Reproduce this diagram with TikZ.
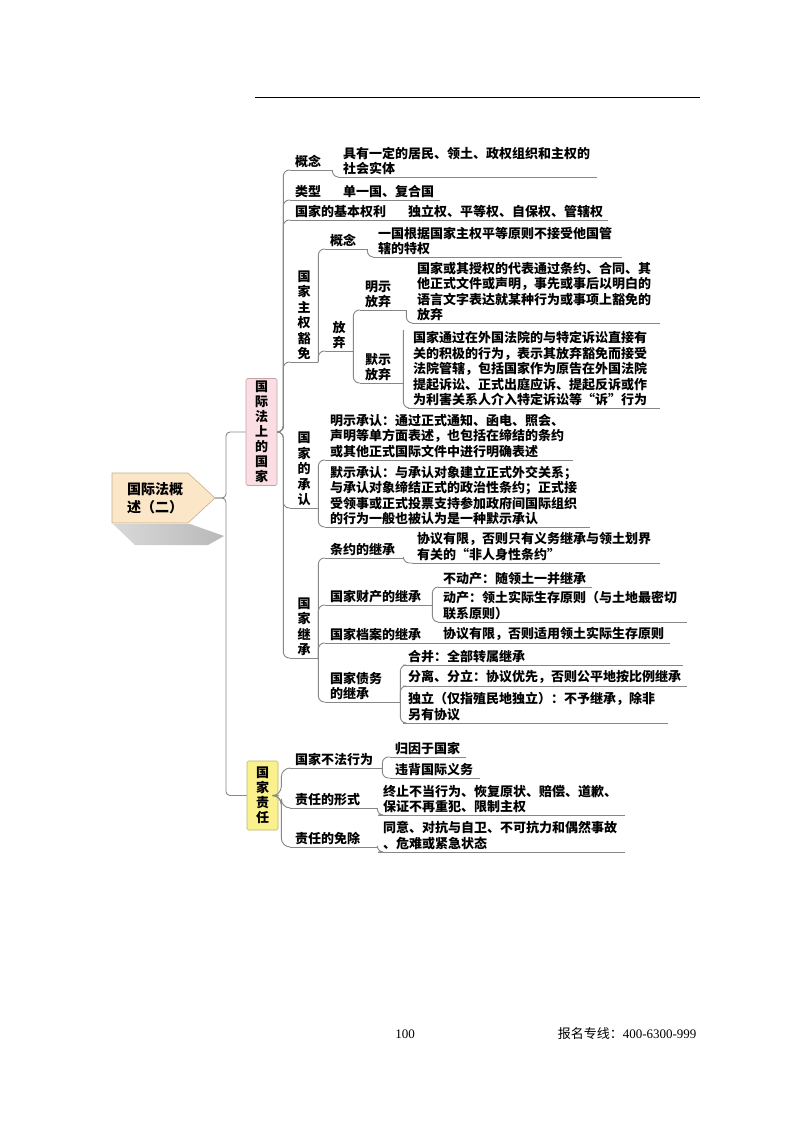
\documentclass[tikz,border=0pt]{standalone}
\usepackage{fontspec}
\setmainfont{Liberation Serif}
\newfontfamily\cjk{Noto Sans CJK SC}
\usetikzlibrary{positioning}
\begin{document}
\begin{tikzpicture}[x=1pt,y=-1pt,
  topic/.style={anchor=south west,inner xsep=5pt,inner ysep=2pt,align=left,font=\cjk\bfseries\fontsize{13}{15.5}\selectfont},
  vtopic/.style={topic,align=center,text width=18pt},
  uline/.style={draw=linec,line width=0.9pt},
  branch/.style={draw=linec,line width=0.9pt,rounded corners=6pt},
  trunk/.style={draw=linec,line width=0.9pt,rounded corners=4pt},
  hbox/.style={minimum width=31pt,inner sep=0pt,align=center,rounded corners=1.5pt,line width=0.6pt,font=\cjk\bfseries\fontsize{13}{15}\selectfont}]
\definecolor{linec}{RGB}{135,135,135}
\definecolor{pinkc}{RGB}{250,222,228}
\definecolor{pinkd}{RGB}{200,160,170}
\definecolor{yelc}{RGB}{250,240,140}
\definecolor{yeld}{RGB}{190,180,110}
\definecolor{rootc}{RGB}{252,230,200}
\definecolor{rootd}{RGB}{200,175,140}
\fill[white] (0,0) rectangle (800,1124);
\useasboundingbox (0,0) rectangle (800,1124);
\draw[line width=0.8pt] (255,97) -- (700,97);
\shade[left color=gray!30,right color=gray!55] (113,524) -- (190,524) -- (224,536) -- (208,545) -- (135,545) -- cycle;
\draw[fill=rootc,draw=rootd,line width=0.6pt] (112,473) -- (188,473) -- (215,498) -- (188,523) -- (112,523) -- cycle;
\coordinate (roottip) at (215,498);
\node[anchor=west,align=left,inner sep=0pt,font=\cjk\bfseries\fontsize{14}{17.5}\selectfont] (root) at (127,498) {国际法概\\述（二）};
\node[hbox,fill=pinkc,draw=pinkd,minimum height=107pt] (gj) at (261.5,432) {国\\际\\法\\上\\的\\国\\家};
\node[hbox,fill=yelc,draw=yeld,minimum height=69pt] (zr) at (262.5,795.5) {国\\家\\责\\任};
\draw[trunk] (roottip) -- ++(11,0) |- (gj.west);
\draw[trunk] (roottip) -- ++(11,0) |- (zr.west);
\node[topic,text width=32pt] (gn) at (290,170) {概念};
\node[topic,text width=249pt] (gnT) at (338,177) {具有一定的居民、领土、政权组织和主权的\\社会实体};
\node[topic,text width=34pt] (lx) at (290,200) {类型};
\node[topic,text width=92pt] (lxT) at (338,200) {单一国、复合国};
\node[topic,text width=96pt] (ql) at (290,220) {国家的基本权利};
\node[topic,text width=195pt] (qlT) at (403,220) {独立权、平等权、自保权、管辖权};
\node[vtopic] (hm) at (290,362) {国\\家\\主\\权\\豁\\免};
\node[topic,text width=32pt] (hmgn) at (325,249) {概念};
\node[topic,text width=239pt] (hmgnT) at (373,257) {一国根据国家主权平等原则不接受他国管\\辖的特权};
\node[vtopic] (fq) at (325,351) {放\\弃};
\node[topic,text width=36pt] (mf) at (360,310) {明示\\放弃};
\node[topic,text width=238pt] (mfT) at (412,323) {国家或其授权的代表通过条约、合同、其\\他正式文件或声明，事先或事后以明白的\\语言文字表达就某种行为或事项上豁免的\\放弃};
\node[topic,text width=33pt] (mof) at (360,383) {默示\\放弃};
\node[topic,text width=242pt] (mofT) at (408,408) {国家通过在外国法院的与特定诉讼直接有\\关的积极的行为，表示其放弃豁免而接受\\法院管辖，包括国家作为原告在外国法院\\提起诉讼、正式出庭应诉、提起反诉或作\\为利害关系人介入特定诉讼等“诉”行为};
\node[vtopic] (cr) at (290,508) {国\\家\\的\\承\\认};
\node[topic,text width=238pt] (crM) at (325,460) {明示承认：通过正式通知、函电、照会、\\声明等单方面表述，也包括在缔结的条约\\或其他正式国际文件中进行明确表述};
\node[topic,text width=255pt] (crMo) at (325,527) {默示承认：与承认对象建立正式外交关系；\\与承认对象缔结正式的政治性条约；正式接\\受领事或正式投票支持参加政府间国际组织\\的行为一般也被认为是一种默示承认};
\node[vtopic] (jc) at (290,658) {国\\家\\继\\承};
\node[topic,text width=68pt] (jcTy) at (325,558) {条约的继承};
\node[topic,text width=238pt] (jcTyT) at (412,563) {协议有限，否则只有义务继承与领土划界\\有关的“非人身性条约”};
\node[topic,text width=97pt] (jcCc) at (325,605) {国家财产的继承};
\node[topic,text width=144pt] (jcBd) at (438,587) {不动产：随领土一并继承};
\node[topic,text width=239pt] (jcDc) at (438,622) {动产：领土实际生存原则（与土地最密切\\联系原则）};
\node[topic,text width=97pt] (jcDa) at (325,643) {国家档案的继承};
\node[topic,text width=222pt] (jcDaT) at (438,643) {协议有限，否则适用领土实际生存原则};
\node[topic,text width=65pt] (jcZw) at (325,702) {国家债务\\的继承};
\node[topic,text width=270pt] (jcHb) at (403,665) {合并：全部转属继承};
\node[topic,text width=274pt] (jcFl) at (403,686) {分离、分立：协议优先，否则公平地按比例继承};
\node[topic,text width=255pt] (jcDl) at (403,723) {独立（仅指殖民地独立）：不予继承，除非\\另有协议};
\node[topic,text width=82pt] (bf) at (290,768) {国家不法行为};
\node[topic,text width=66pt] (bfGy) at (390,757) {归因于国家};
\node[topic,text width=80pt] (bfWb) at (390,778) {违背国际义务};
\node[topic,text width=77pt] (xs) at (290,808) {责任的形式};
\node[topic,text width=237pt] (xsT) at (378,815) {终止不当行为、恢复原状、赔偿、道歉、\\保证不再重犯、限制主权};
\node[topic,text width=77pt] (mc) at (290,847) {责任的免除};
\node[topic,text width=237pt] (mcT) at (378,852) {同意、对抗与自卫、不可抗力和偶然事故\\、危难或紧急状态};
\foreach \n in {gn,gnT,lx,lxT,ql,qlT,hm,hmgn,hmgnT,fq,mf,mfT,mof,mofT,cr,crM,crMo,jc,jcTy,jcTyT,jcCc,jcBd,jcDc,jcDa,jcDaT,jcZw,jcHb,jcFl,jcDl,bf,bfGy,bfWb,xs,xsT,mc,mcT}
  \draw[uline] (\n.south west) -- (\n.south east);
\foreach \c in {gn,lx,ql,hm,cr,jc}
  \draw[branch] (gj.east) -- ++(6,0) |- (\c.south west);
\foreach \c in {bf,xs,mc}
  \draw[branch,rounded corners=9pt] (zr.east) -- ++(3,0) |- (\c.south west);
\foreach \p/\c in {gn/gnT,hm/hmgn,hm/fq,hmgn/hmgnT,fq/mf,fq/mof,mf/mfT,cr/crM,cr/crMo,jc/jcTy,jc/jcCc,jc/jcDa,jc/jcZw,jcTy/jcTyT,jcCc/jcBd,jcCc/jcDc,jcZw/jcHb,jcZw/jcFl,jcZw/jcDl,bf/bfGy,bf/bfWb,xs/xsT,mc/mcT}
  \draw[branch] (\p.south east) |- (\c.south west);
\foreach \p/\c in {lx/lxT,ql/qlT,jcDa/jcDaT}
  \draw[uline] (\p.south east) -- (\c.south west);
\draw[branch] (mof.south east |- mfT.south west) ++(0,7) |- (mofT.south west);
\node[font=\fontsize{13}{15}\selectfont] (pg) at (405,1034) {100};
\node[anchor=east,font=\fontsize{13}{15}\selectfont] (tel) at (700,1034) {{\cjk 报名专线：}400-6300-999};
\end{tikzpicture}
\end{document}
